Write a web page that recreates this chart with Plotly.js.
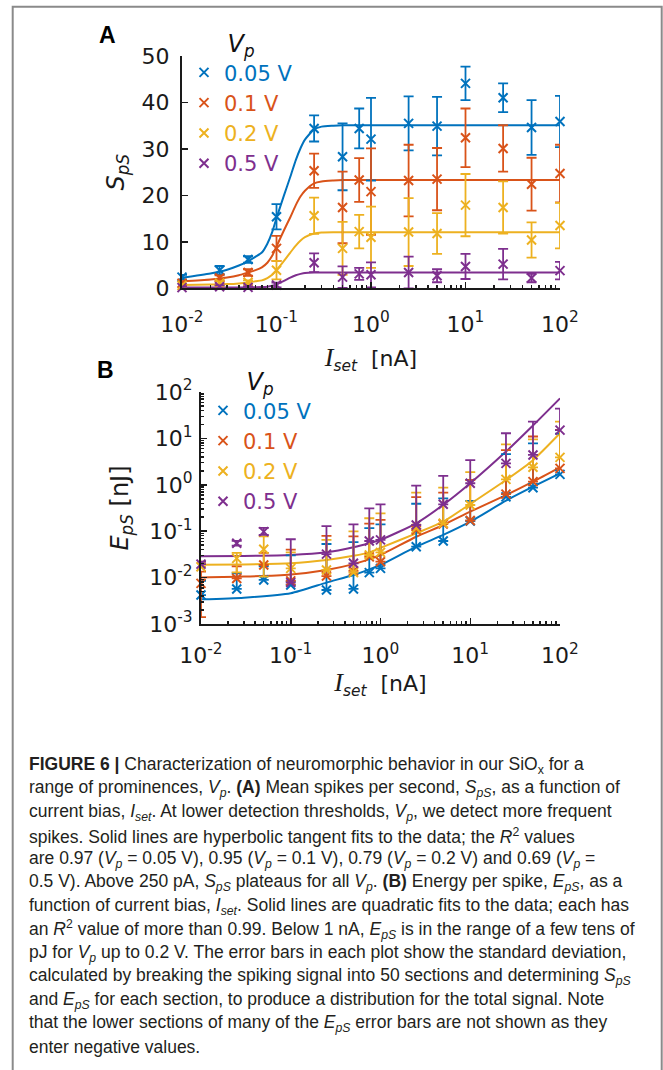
<!DOCTYPE html>
<html><head><meta charset="utf-8">
<script src="https://cdn.plot.ly/plotly-3.0.1.min.js"></script>
<style>html,body{margin:0;padding:0;background:#fff;}#chart{width:663px;height:1070px;}</style>
</head><body><div id="chart"></div>
<script>
const W = 663, H = 1070;

// ---------- shared ----------
const iset = [0.01, 0.025, 0.05, 0.1, 0.25, 0.5, 0.75, 1, 2.5, 5, 10, 25, 50, 100];
const vpLabels = ['0.05 V', '0.1 V', '0.2 V', '0.5 V'];
const colors = ['#0072BD', '#D95319', '#EDB120', '#7E2F8E'];
const decades = [0.01, 0.1, 1, 10, 100];
const decadeLabels = ['10<sup>-2</sup>', '10<sup>-1</sup>', '10<sup>0</sup>', '10<sup>1</sup>', '10<sup>2</sup>'];
const eDecades = [0.001, 0.01, 0.1, 1, 10, 100];
const eDecadeLabels = ['10<sup>-3</sup>', '10<sup>-2</sup>', '10<sup>-1</sup>', '10<sup>0</sup>', '10<sup>1</sup>', '10<sup>2</sup>'];

// ---------- panel A: spikes per second ----------
const sps005 = [2.4, 3.9, 6.2, 15.4, 34.4, 28.3, 34.4, 32.1, 35.5, 34.9, 44.1, 41.0, 34.6, 35.9];
const sps01  = [1.1, 2.2, 3.4, 8.6, 25.3, 17.4, 23.3, 20.8, 23.2, 23.5, 32.4, 30.1, 22.4, 24.7];
const sps02  = [0.6, 1.1, 1.3, 3.9, 15.6, 8.6, 12.2, 11.0, 12.1, 11.8, 17.9, 17.4, 10.4, 13.5];
const sps05  = [0.15, 0.35, 0.2, 0.7, 5.5, 2.4, 3.1, 2.9, 3.4, 2.7, 4.7, 5.2, 2.2, 3.8];
const spsStd005 = [0.5, 0.9, 0.7, 2.7, 2.8, 7.2, 4.3, 8.9, 5.8, 6.3, 3.6, 3.1, 5.9, 5.5];
const spsStd01  = [0.4, 0.6, 0.7, 2.7, 3.7, 7.7, 4.7, 9.3, 7.7, 6.7, 6.3, 5.0, 5.7, 6.2];
const spsStd02  = [0.3, 0.4, 0.4, 2.0, 3.9, 5.7, 3.6, 6.6, 7.3, 4.4, 6.7, 5.6, 3.8, 4.9];
const spsStd05  = [0.2, 0.3, 0.2, 0.5, 2.0, 2.3, 1.3, 2.7, 3.4, 1.4, 2.7, 3.3, 0.9, 1.9];

const fitXA = [0.01, 0.02, 0.03, 0.04, 0.05, 0.06, 0.07, 0.08, 0.09, 0.1, 0.12, 0.14, 0.16, 0.18, 0.2, 0.25, 0.3, 0.4, 0.5, 1, 10, 100];
const fitA005 = [2.3, 3.2, 4.0, 4.9, 5.8, 6.8, 7.7, 9.6, 12.1, 15.1, 20.0, 24.0, 27.6, 30.2, 32.0, 34.2, 34.8, 35.0, 35.1, 35.1, 35.1, 35.1];
const fitA01  = [1.5, 1.9, 2.3, 2.8, 3.4, 3.9, 4.5, 5.5, 7.0, 9.0, 12.5, 15.3, 17.9, 19.8, 21.0, 22.6, 23.0, 23.2, 23.3, 23.3, 23.3, 23.3];
const fitA02  = [0.7, 0.8, 0.9, 1.05, 1.25, 1.5, 1.7, 2.2, 2.9, 3.9, 5.9, 7.7, 9.2, 10.3, 11.0, 11.8, 12.0, 12.05, 12.05, 12.05, 12.05, 12.05];
const fitA05  = [0.15, 0.15, 0.15, 0.17, 0.2, 0.22, 0.26, 0.35, 0.55, 0.85, 1.6, 2.3, 2.8, 3.1, 3.3, 3.4, 3.4, 3.4, 3.4, 3.4, 3.4, 3.4];

// ---------- panel B: energy per spike (nJ) ----------
const eps005 = [0.0042, 0.0057, 0.0089, 0.0069, 0.0054, 0.0057, 0.0128, 0.0158, 0.0464, 0.0615, 0.166, 0.55, 0.867, 1.68];
const eps01  = [0.0075, 0.0096, 0.0187, 0.0085, 0.0108, 0.0139, 0.028, 0.022, 0.106, 0.143, 0.17, 0.63, 1.17, 2.26];
const eps02  = [0.0172, 0.026, 0.041, 0.0158, 0.0146, 0.0128, 0.0307, 0.035, 0.115, 0.148, 0.367, 1.31, 2.38, 3.9];
const eps05  = [0.0195, 0.055, 0.098, 0.0078, 0.032, 0.0203, 0.0615, 0.065, 0.136, 0.38, 1.08, 2.9, 4.4, 15.1];
// upper ends of error bars
const epsTop005 = [0.0085, 0.0124, 0.0175, 0.03, 0.053, 0.058, 0.116, 0.14, 0.39, 0.51, 0.45, 4.6, 7.8, 12.7];
const epsTop01  = [0.0134, 0.0175, 0.034, 0.04, 0.079, 0.077, 0.146, 0.175, 0.54, 0.68, 1.27, 5.6, 11, 15.2];
const epsTop02  = [0.022, 0.034, 0.077, 0.035, 0.065, 0.099, 0.19, 0.243, 0.68, 0.87, 1.87, 7.4, 9.5, 23];
const epsTop05  = [0.022, 0.062, 0.118, 0.067, 0.129, 0.14, 0.31, 0.38, 0.96, 1.55, 3.4, 12.9, 22.9, 44];
// lower ends of error bars (where drawn; otherwise equal to the mean)
const epsLow005 = [0.0042, 0.0057, 0.0089, 0.0069, 0.0054, 0.0057, 0.0128, 0.0158, 0.0464, 0.0615, 0.166, 0.55, 0.867, 1.68];
const epsLow01  = [0.0014, 0.0096, 0.0187, 0.0085, 0.0108, 0.0139, 0.028, 0.022, 0.106, 0.143, 0.17, 0.63, 1.17, 2.26];
const epsLow02  = [0.0172, 0.013, 0.0105, 0.0158, 0.0146, 0.0128, 0.0307, 0.035, 0.115, 0.148, 0.367, 1.31, 2.38, 3.9];
const epsLow05  = [0.0195, 0.049, 0.083, 0.0078, 0.032, 0.0203, 0.0615, 0.065, 0.136, 0.38, 1.08, 2.9, 4.4, 15.1];

const fitXB = [0.01, 0.03, 0.1, 0.25, 0.5, 0.75, 1, 2.5, 5, 10, 25, 50, 100];
const fitB005 = [0.0034, 0.0037, 0.0046, 0.0078, 0.0114, 0.015, 0.0187, 0.0465, 0.083, 0.16, 0.455, 0.91, 1.77];
const fitB01  = [0.0101, 0.0105, 0.0117, 0.0146, 0.0195, 0.025, 0.0307, 0.076, 0.136, 0.264, 0.6, 1.17, 2.38];
const fitB02  = [0.0189, 0.0192, 0.0203, 0.024, 0.0295, 0.035, 0.0437, 0.09, 0.16, 0.386, 1.27, 3.4, 12.9];
const fitB05  = [0.029, 0.0293, 0.0307, 0.035, 0.045, 0.055, 0.065, 0.148, 0.37, 1.08, 5.2, 19, 73];

// ---------- caption ----------
const captionLines = [
  '<b>FIGURE 6 |</b> Characterization of neuromorphic behavior in our SiO<sub>x</sub> for a',
  'range of prominences, <i>V<sub>p</sub></i>. <b>(A)</b> Mean spikes per second, <i>S<sub>pS</sub></i>, as a function of',
  'current bias, <i>I<sub>set</sub></i>. At lower detection thresholds, <i>V<sub>p</sub></i>, we detect more frequent',
  'spikes. Solid lines are hyperbolic tangent fits to the data; the <i>R</i><sup>2</sup> values',
  'are 0.97 (<i>V<sub>p</sub></i> = 0.05 V), 0.95 (<i>V<sub>p</sub></i> = 0.1 V), 0.79 (<i>V<sub>p</sub></i> = 0.2 V) and 0.69 (<i>V<sub>p</sub></i> =',
  '0.5 V). Above 250 pA, <i>S<sub>pS</sub></i> plateaus for all <i>V<sub>p</sub></i>. <b>(B)</b> Energy per spike, <i>E<sub>pS</sub></i>, as a',
  'function of current bias, <i>I<sub>set</sub></i>. Solid lines are quadratic fits to the data; each has',
  'an <i>R</i><sup>2</sup> value of more than 0.99. Below 1 nA, <i>E<sub>pS</sub></i> is in the range of a few tens of',
  'pJ for <i>V<sub>p</sub></i> up to 0.2 V. The error bars in each plot show the standard deviation,',
  'calculated by breaking the spiking signal into 50 sections and determining <i>S<sub>pS</sub></i>',
  'and <i>E<sub>pS</sub></i> for each section, to produce a distribution for the total signal. Note',
  'that the lower sections of many of the <i>E<sub>pS</sub></i> error bars are not shown as they',
  'enter negative values.'
];

// ---------- build ----------
const FONT = 'DejaVu Sans, Verdana, sans-serif';
const spsMeans = [sps005, sps01, sps02, sps05];
const spsStds = [spsStd005, spsStd01, spsStd02, spsStd05];
const fitAs = [fitA005, fitA01, fitA02, fitA05];
const epsMeans = [eps005, eps01, eps02, eps05];
const epsTops = [epsTop005, epsTop01, epsTop02, epsTop05];
const epsLows = [epsLow005, epsLow01, epsLow02, epsLow05];
const fitBs = [fitB005, fitB01, fitB02, fitB05];

const traces = [];
for (let i = 0; i < 4; i++) {
  traces.push({x: fitXA, y: fitAs[i], xaxis: 'x', yaxis: 'y', mode: 'lines', line: {color: colors[i], width: 2, shape: 'spline', smoothing: 0.6}, showlegend: false, hoverinfo: 'skip', cliponaxis: false});
}
for (let i = 0; i < 4; i++) {
  traces.push({x: iset, y: spsMeans[i], xaxis: 'x', yaxis: 'y', mode: 'markers', legend: 'legend',
    name: '<span style="color:' + colors[i] + '">' + vpLabels[i] + '</span>',
    marker: {symbol: 'x-thin-open', size: 9, color: colors[i], line: {width: 2, color: colors[i]}},
    error_y: {type: 'data', array: spsStds[i], color: colors[i], thickness: 1.8, width: 5},
    cliponaxis: false});
}
for (let i = 0; i < 4; i++) {
  traces.push({x: fitXB, y: fitBs[i], xaxis: 'x2', yaxis: 'y2', mode: 'lines', line: {color: colors[i], width: 2, shape: 'spline', smoothing: 0.6}, showlegend: false, hoverinfo: 'skip', cliponaxis: false});
}
for (let i = 0; i < 4; i++) {
  const m = epsMeans[i];
  traces.push({x: iset, y: m, xaxis: 'x2', yaxis: 'y2', mode: 'markers', legend: 'legend2',
    name: '<span style="color:' + colors[i] + '">' + vpLabels[i] + '</span>',
    marker: {symbol: 'x-thin-open', size: 9, color: colors[i], line: {width: 2, color: colors[i]}},
    error_y: {type: 'data', symmetric: false,
      array: epsTops[i].map((t, k) => t - m[k]),
      arrayminus: epsLows[i].map((l, k) => m[k] - l),
      color: colors[i], thickness: 1.8, width: 5},
    cliponaxis: false});
}

function px(x) { return x / W; }
function py(y) { return 1 - y / H; }

const axisCommon = {showline: true, linewidth: 2, linecolor: '#1a1a1a', showgrid: false, zeroline: false,
  ticks: 'inside', ticklen: 6, tickwidth: 1.5, tickcolor: '#1a1a1a', tickfont: {family: FONT, size: 22, color: '#1a1a1a'}};
const isetTitle = '<span style="font-family:Liberation Serif;font-size:26px"><i>I</i></span><sub><i>set</i></sub>\u00a0\u00a0[nA]';

const annotations = [
  {text: '<b>A</b>', x: px(107), y: py(35), xref: 'paper', yref: 'paper', xanchor: 'center', yanchor: 'middle', showarrow: false, font: {family: 'Liberation Sans, Arial', size: 23, color: '#000'}},
  {text: '<b>B</b>', x: px(105), y: py(370), xref: 'paper', yref: 'paper', xanchor: 'center', yanchor: 'middle', showarrow: false, font: {family: 'Liberation Sans, Arial', size: 23, color: '#000'}}
];
captionLines.forEach((t, k) => {
  annotations.push({text: t, x: px(27), y: py(765 + k * 23.5), xref: 'paper', yref: 'paper', xanchor: 'left', yanchor: 'middle', showarrow: false, align: 'left',
    font: {family: 'Liberation Sans Narrow, Liberation Sans, Arial', size: 17.5, color: '#231f20'}});
});

const legendCommon = {xanchor: 'left', yanchor: 'top', bgcolor: 'rgba(0,0,0,0)', borderwidth: 0,
  font: {family: FONT, size: 21}, itemwidth: 30, tracegroupgap: 0,
  title: {text: '<i>V<sub>p</sub></i>', side: 'top center', font: {family: FONT, size: 24, color: '#111'}}};

const layout = {
  width: W, height: H, margin: {l: 0, r: 0, t: 0, b: 0},
  paper_bgcolor: '#fff', plot_bgcolor: 'rgba(0,0,0,0)',
  font: {family: FONT, size: 22, color: '#1a1a1a'},
  showlegend: true,
  xaxis: Object.assign({}, axisCommon, {type: 'log', domain: [px(182), px(560)], range: [-2, 2], anchor: 'y',
    tickmode: 'array', tickvals: decades, ticktext: decadeLabels, ticklabelstandoff: 15,
    minor: {ticks: 'inside', ticklen: 3, tickcolor: '#1a1a1a', dtick: 'D1'},
    title: {text: isetTitle, font: {family: FONT, size: 22}, standoff: 15}}),
  yaxis: Object.assign({}, axisCommon, {domain: [py(288.3), py(56)], range: [0, 50], dtick: 10, anchor: 'x', ticklabelstandoff: 6,
    title: {text: '<i>S<sub>pS</sub></i>', font: {family: FONT, size: 24}, standoff: 10}}),
  xaxis2: Object.assign({}, axisCommon, {type: 'log', domain: [px(201), px(560)], range: [-2, 2], anchor: 'y2',
    tickmode: 'array', tickvals: decades, ticktext: decadeLabels, ticklabelstandoff: 11,
    minor: {ticks: 'inside', ticklen: 3, tickcolor: '#1a1a1a', dtick: 'D1'},
    title: {text: isetTitle, font: {family: FONT, size: 22}, standoff: 7}}),
  yaxis2: Object.assign({}, axisCommon, {type: 'log', domain: [py(624), py(392)], range: [-3, 2], anchor: 'x2',
    tickmode: 'array', tickvals: eDecades, ticktext: eDecadeLabels, ticklabelstandoff: 2,
    minor: {ticks: 'inside', ticklen: 3, tickcolor: '#1a1a1a', dtick: 'D1'},
    title: {text: '<i>E<sub>pS</sub></i> [nJ]', font: {family: FONT, size: 24}, standoff: 14}}),
  legend: Object.assign({}, legendCommon, {x: px(184), y: py(21)}),
  legend2: Object.assign({}, legendCommon, {x: px(203), y: py(359)}),
  annotations: annotations,
  shapes: [{type: 'rect', xref: 'paper', yref: 'paper', x0: px(12.7), x1: px(661.7), y0: -0.05, y1: py(6.7),
    line: {color: '#8a8a8a', width: 2}, fillcolor: 'rgba(0,0,0,0)', layer: 'below'}]
};

Plotly.newPlot('chart', traces, layout, {displayModeBar: false, staticPlot: true});
</script>
</body></html>
